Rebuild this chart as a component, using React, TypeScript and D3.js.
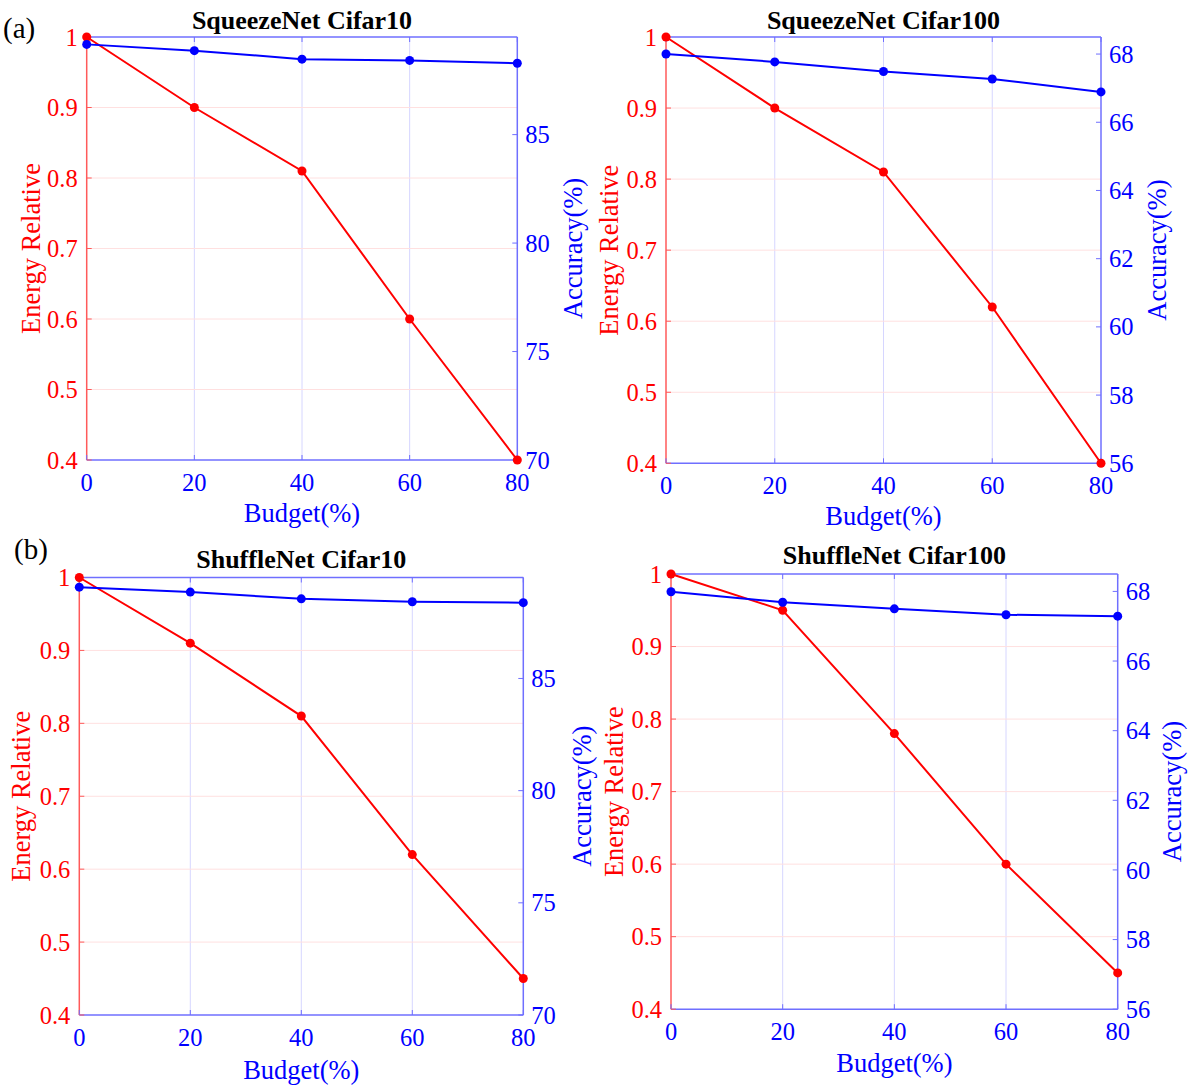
import React from "react";
import * as d3 from "d3";

const budget = [0, 20, 40, 60, 80];
const energyTicks = [0.4, 0.5, 0.6, 0.7, 0.8, 0.9, 1];
const acc10Ticks = [70, 75, 80, 85];
const acc100Ticks = [56, 58, 60, 62, 64, 66, 68];

const squeezeCifar10Energy = [1, 0.9, 0.81, 0.6, 0.4];
const squeezeCifar10Acc = [89.16, 88.87, 88.48, 88.42, 88.29];
const squeezeCifar100Energy = [1, 0.9, 0.81, 0.62, 0.4];
const squeezeCifar100Acc = [68.0, 67.77, 67.49, 67.27, 66.89];
const shuffleCifar10Energy = [1, 0.91, 0.81, 0.62, 0.45];
const shuffleCifar10Acc = [89.07, 88.85, 88.55, 88.42, 88.38];
const shuffleCifar100Energy = [1, 0.95, 0.78, 0.6, 0.45];
const shuffleCifar100Acc = [67.99, 67.69, 67.5, 67.33, 67.29];

const titles = ["SqueezeNet Cifar10", "SqueezeNet Cifar100", "ShuffleNet Cifar10", "ShuffleNet Cifar100"];

const FONT = "'Liberation Serif', 'Times New Roman', serif";
const RED = "#ff0000";
const BLUE = "#0000ff";
const FRAME_BLUE = "#6f6fff";
const FRAME_RED = "#ff5a5a";
const GRID_BLUE = "#d6d6ff";
const GRID_RED = "#ffe0e0";

type PanelProps = {
  title: string;
  left: number;
  right: number;
  top: number;
  bottom: number;
  energy: number[];
  acc: number[];
  accDomain: [number, number];
  accTicks: number[];
  energyLabelX: number;
  accLabelX: number;
  budgetLabelY: number;
  titleY: number;
};

function Panel(p: PanelProps) {
  const x = d3.scaleLinear().domain([0, 80]).range([p.left, p.right]);
  const yE = d3.scaleLinear().domain([0.4, 1]).range([p.bottom, p.top]);
  const yA = d3.scaleLinear().domain(p.accDomain).range([p.bottom, p.top]);
  const lineE = d3.line<number>().x((_, i) => x(budget[i])).y((d) => yE(d));
  const lineA = d3.line<number>().x((_, i) => x(budget[i])).y((d) => yA(d));
  const cx = (p.left + p.right) / 2;
  const cy = (p.top + p.bottom) / 2;
  const tk = 5;
  return (
    <g>
      {budget.slice(1, -1).map((b) => (
        <line key={"gv" + b} x1={x(b)} x2={x(b)} y1={p.top} y2={p.bottom} stroke={GRID_BLUE} strokeWidth={1} />
      ))}
      {energyTicks.slice(1, -1).map((t) => (
        <line key={"gh" + t} x1={p.left} x2={p.right} y1={yE(t)} y2={yE(t)} stroke={GRID_RED} strokeWidth={1} />
      ))}
      <line x1={p.left} x2={p.right} y1={p.top} y2={p.top} stroke={FRAME_BLUE} strokeWidth={1.5} />
      <line x1={p.left} x2={p.right} y1={p.bottom} y2={p.bottom} stroke={FRAME_BLUE} strokeWidth={1.5} />
      <line x1={p.right} x2={p.right} y1={p.top} y2={p.bottom} stroke={FRAME_BLUE} strokeWidth={1.5} />
      <line x1={p.left} x2={p.left} y1={p.top} y2={p.bottom} stroke={FRAME_RED} strokeWidth={1.5} />
      {budget.map((b) => (
        <g key={"xt" + b}>
          <line x1={x(b)} x2={x(b)} y1={p.bottom} y2={p.bottom - tk} stroke={FRAME_BLUE} strokeWidth={1} />
          <line x1={x(b)} x2={x(b)} y1={p.top} y2={p.top + tk} stroke={FRAME_BLUE} strokeWidth={1} />
          <text x={x(b)} y={p.bottom + 31} fill={BLUE} fontSize={24.5} textAnchor="middle" fontFamily={FONT}>
            {b}
          </text>
        </g>
      ))}
      {energyTicks.map((t) => (
        <g key={"yl" + t}>
          <line x1={p.left} x2={p.left + tk} y1={yE(t)} y2={yE(t)} stroke={FRAME_RED} strokeWidth={1} />
          <text x={p.left - 9} y={yE(t)} dy="0.35em" fill={RED} fontSize={24.5} textAnchor="end" fontFamily={FONT}>
            {t === 1 ? "1" : t.toFixed(1)}
          </text>
        </g>
      ))}
      {p.accTicks.map((t) => (
        <g key={"yr" + t}>
          <line x1={p.right} x2={p.right - tk} y1={yA(t)} y2={yA(t)} stroke={FRAME_BLUE} strokeWidth={1} />
          <text x={p.right + 8} y={yA(t)} dy="0.35em" fill={BLUE} fontSize={24.5} textAnchor="start" fontFamily={FONT}>
            {t}
          </text>
        </g>
      ))}
      <path d={lineE(p.energy) || ""} fill="none" stroke={RED} strokeWidth={2} />
      {p.energy.map((v, i) => (
        <circle key={"ce" + i} cx={x(budget[i])} cy={yE(v)} r={4.5} fill={RED} />
      ))}
      <path d={lineA(p.acc) || ""} fill="none" stroke={BLUE} strokeWidth={2} />
      {p.acc.map((v, i) => (
        <circle key={"ca" + i} cx={x(budget[i])} cy={yA(v)} r={4.5} fill={BLUE} />
      ))}
      <text x={cx} y={p.titleY} fontSize={26} fontWeight="bold" textAnchor="middle" fontFamily={FONT} fill="#000">
        {p.title}
      </text>
      <text x={cx} y={p.budgetLabelY} fontSize={26.5} textAnchor="middle" fontFamily={FONT} fill={BLUE}>
        Budget(%)
      </text>
      <text
        transform={`translate(${p.energyLabelX},${cy}) rotate(-90)`}
        fontSize={26.5}
        textAnchor="middle"
        dominantBaseline="central"
        fontFamily={FONT}
        fill={RED}
      >
        Energy Relative
      </text>
      <text
        transform={`translate(${p.accLabelX},${cy}) rotate(-90)`}
        fontSize={26.5}
        textAnchor="middle"
        dominantBaseline="central"
        fontFamily={FONT}
        fill={BLUE}
      >
        Accuracy(%)
      </text>
    </g>
  );
}

export default function App() {
  return (
    <svg
      width={1192}
      height={1089}
      style={{ position: "absolute", left: 0, top: 0, background: "#fff" }}
    >
      <rect width={1192} height={1089} fill="#fff" />
      <text x={3} y={38} fontSize={29} fontFamily={FONT} fill="#000">(a)</text>
      <text x={14} y={559} fontSize={29} fontFamily={FONT} fill="#000">(b)</text>
      <Panel
        title={titles[0]}
        left={86.7}
        right={517.3}
        top={37}
        bottom={460}
        energy={squeezeCifar10Energy}
        acc={squeezeCifar10Acc}
        accDomain={[70, 89.5]}
        accTicks={acc10Ticks}
        energyLabelX={31}
        accLabelX={573}
        budgetLabelY={522}
        titleY={29}
      />
      <Panel
        title={titles[1]}
        left={666}
        right={1101}
        top={37}
        bottom={463.3}
        energy={squeezeCifar100Energy}
        acc={squeezeCifar100Acc}
        accDomain={[56, 68.5]}
        accTicks={acc100Ticks}
        energyLabelX={609}
        accLabelX={1157}
        budgetLabelY={525}
        titleY={29}
      />
      <Panel
        title={titles[2]}
        left={79.3}
        right={523.3}
        top={577.5}
        bottom={1015}
        energy={shuffleCifar10Energy}
        acc={shuffleCifar10Acc}
        accDomain={[70, 89.5]}
        accTicks={acc10Ticks}
        energyLabelX={21}
        accLabelX={582}
        budgetLabelY={1079}
        titleY={568}
      />
      <Panel
        title={titles[3]}
        left={671}
        right={1117.7}
        top={574}
        bottom={1009.2}
        energy={shuffleCifar100Energy}
        acc={shuffleCifar100Acc}
        accDomain={[56, 68.5]}
        accTicks={acc100Ticks}
        energyLabelX={614}
        accLabelX={1172}
        budgetLabelY={1072}
        titleY={564}
      />
    </svg>
  );
}
